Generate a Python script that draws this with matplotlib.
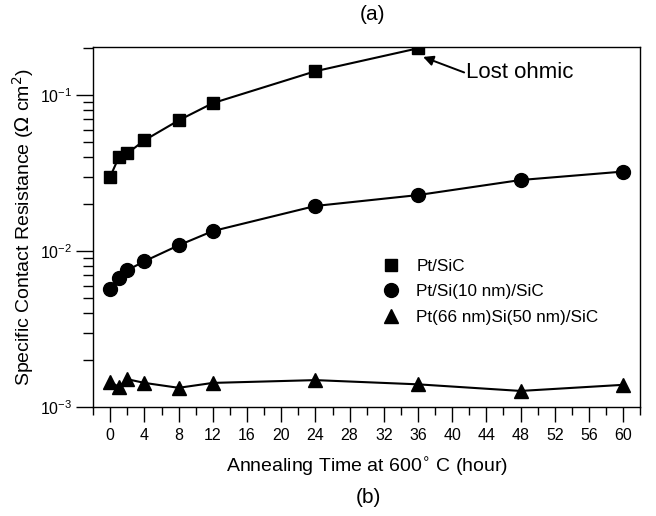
import matplotlib
matplotlib.use("Agg")
from matplotlib import pyplot as plt
from matplotlib.lines import Line2D
from matplotlib.ticker import LogLocator, MultipleLocator, LogFormatterMathtext

plt.rcParams['font.family'] = ['Liberation Sans', 'DejaVu Sans']

hours = [0, 1, 2, 4, 8, 12, 24, 36, 48, 60]
pt_sic = [0.0301, 0.040, 0.0424, 0.0514, 0.069, 0.089, 0.1426, 0.200]
pt_si10 = [0.0057, 0.0067, 0.00755, 0.00862, 0.0109, 0.01346, 0.0195, 0.0229, 0.0286, 0.0324]
pt66_si50 = [0.00145, 0.00135, 0.00151, 0.00143, 0.00133, 0.00143, 0.00149, 0.00140, 0.00127, 0.00139]
labels = ["Pt/SiC", "Pt/Si(10 nm)/SiC", "Pt(66 nm)Si(50 nm)/SiC"]
markers = ['s', 'o', '^']

fig = plt.figure(figsize=(6.56, 5.16), dpi=100)
ax = fig.add_axes([0.142, 0.211, 0.834, 0.698])

ax.plot(hours[:len(pt_sic)], pt_sic, color='black', marker='s', markersize=9, linewidth=1.5)
ax.plot(hours, pt_si10, color='black', marker='o', markersize=10, linewidth=1.5)
ax.plot(hours, pt66_si50, color='black', marker='^', markersize=10, linewidth=1.5)

ax.set_yscale('log')
ax.set_xlim(-2, 62)
ax.set_ylim(1e-3, 0.204)
ax.xaxis.set_major_locator(MultipleLocator(4))
ax.xaxis.set_minor_locator(MultipleLocator(2))
ax.yaxis.set_major_locator(LogLocator(base=10))
ax.yaxis.set_minor_locator(LogLocator(base=10, subs=range(2, 10)))
ax.yaxis.set_major_formatter(LogFormatterMathtext())
ax.tick_params(which='major', direction='out', width=1, labelsize=11.5)
ax.tick_params(which='minor', direction='out', width=1)
ax.tick_params(axis='x', which='major', length=11, pad=4)
ax.tick_params(axis='x', which='minor', length=6)
ax.tick_params(axis='y', which='major', length=12, pad=3)
ax.tick_params(axis='y', which='minor', length=7)
for s in ax.spines.values():
    s.set_linewidth(1)

ax.set_xlabel("Annealing Time at 600$^{\\circ}$ C (hour)", fontsize=14, labelpad=9)
ax.set_ylabel("Specific Contact Resistance ($\\Omega$ cm$^2$)", fontsize=14, labelpad=3)

ax.annotate("", xy=(36.6, 0.176), xytext=(41.4, 0.14),
            arrowprops=dict(arrowstyle='-|>', color='black', lw=1.4, mutation_scale=15, shrinkA=0, shrinkB=0))
ax.text(41.6, 0.14, "Lost ohmic", fontsize=16, va='center', ha='left')

handles = [Line2D([], [], color='black', marker=m, markersize=10 if m != 's' else 9, linestyle='none')
           for m in markers]
ax.legend(handles, labels, loc='center left', bbox_to_anchor=(0.5, 0.32), frameon=False, fontsize=12.3,
          handletextpad=1.0, labelspacing=0.6, handlelength=1.0)

fig.text(0.568, 0.972, "(a)", ha='center', va='center', fontsize=15)
fig.text(0.561, 0.036, "(b)", ha='center', va='center', fontsize=15)

fig.savefig("out.png", dpi=100)
